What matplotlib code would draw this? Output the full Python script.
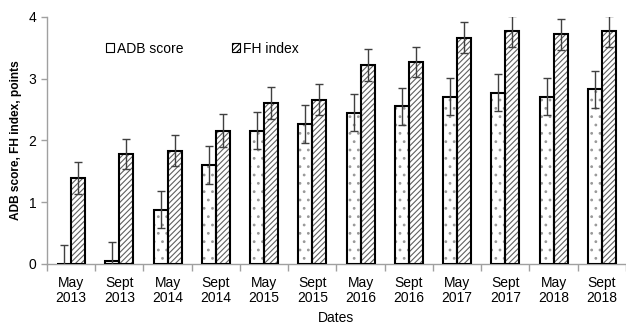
import numpy as np
import matplotlib
matplotlib.use("Agg")
import matplotlib.pyplot as plt
from matplotlib.patches import Patch

plt.rcParams['font.family'] = ['Liberation Sans', 'DejaVu Sans']
plt.rcParams['hatch.linewidth'] = 0.8

dates = ["May\n2013", "Sept\n2013", "May\n2014", "Sept\n2014", "May\n2015", "Sept\n2015",
         "May\n2016", "Sept\n2016", "May\n2017", "Sept\n2017", "May\n2018", "Sept\n2018"]
adb_score = [0.0, 0.05, 0.88, 1.60, 2.16, 2.27, 2.45, 2.55, 2.71, 2.77, 2.71, 2.83]
adb_err = [0.30, 0.30, 0.30, 0.31, 0.30, 0.31, 0.30, 0.30, 0.30, 0.30, 0.30, 0.30]
fh_index = [1.39, 1.78, 1.83, 2.16, 2.60, 2.66, 3.22, 3.27, 3.66, 3.77, 3.72, 3.77]
fh_err = [0.26, 0.25, 0.25, 0.26, 0.26, 0.25, 0.26, 0.25, 0.25, 0.25, 0.25, 0.25]

fig = plt.figure(figsize=(6.26, 3.25), dpi=100)
ax = fig.add_axes([0.075, 0.188, 0.925, 0.76])

x = np.arange(len(dates))
w = 0.29
xa = x - w / 2
xf = x + w / 2

# hatched fills, then black outlines on top
ax.bar(xa, adb_score, w, color='white', edgecolor='#999999', hatch='..', linewidth=0, zorder=2)
ax.bar(xf, fh_index, w, color='white', edgecolor='#606060', hatch='//////', linewidth=0, zorder=2)
ax.bar(xa, adb_score, w, fill=False, edgecolor='black', linewidth=1.5, zorder=3)
ax.bar(xf, fh_index, w, fill=False, edgecolor='black', linewidth=1.5, zorder=3)

ax.errorbar(xa, adb_score, yerr=adb_err, fmt='none', ecolor='#404040', elinewidth=1, capsize=3, capthick=1, zorder=4)
ax.errorbar(xf, fh_index, yerr=fh_err, fmt='none', ecolor='#404040', elinewidth=1, capsize=3, capthick=1, zorder=4)

ax.set_xlim(-0.5, len(dates) - 0.5)
ax.set_ylim(0, 4)
ax.set_yticks([0, 1, 2, 3, 4])
ax.set_xticks(x)
ax.set_xticklabels(dates, fontsize=10, linespacing=1.05)
ax.tick_params(axis='x', length=0, pad=9)
ax.set_xticks(np.arange(-0.5, len(dates)), minor=True)
ax.tick_params(axis='x', which='minor', length=5, color='#a0a0a0', width=1)
ax.tick_params(axis='y', labelsize=10, length=4, color='#a0a0a0', width=1)

for s in ['top', 'right']:
    ax.spines[s].set_visible(False)
for s in ['left', 'bottom']:
    ax.spines[s].set_color('#a0a0a0')
    ax.spines[s].set_linewidth(1)

ax.set_ylabel("ADB score, FH index, points", fontsize=8.6, fontweight='bold', labelpad=5)
ax.set_xlabel("Dates", fontsize=10, labelpad=4)

handles = [Patch(facecolor='white', edgecolor='black', linewidth=0.8),
           Patch(facecolor='white', edgecolor='black', hatch='//////', linewidth=0.8)]
ax.legend(handles, ["ADB score", "FH index"], ncol=2, frameon=False, fontsize=10,
          loc='upper left', bbox_to_anchor=(0.08, 0.95), handlelength=0.6, handleheight=0.6,
          handletextpad=0.2, columnspacing=3.5)

fig.savefig("out.png", dpi=100)
